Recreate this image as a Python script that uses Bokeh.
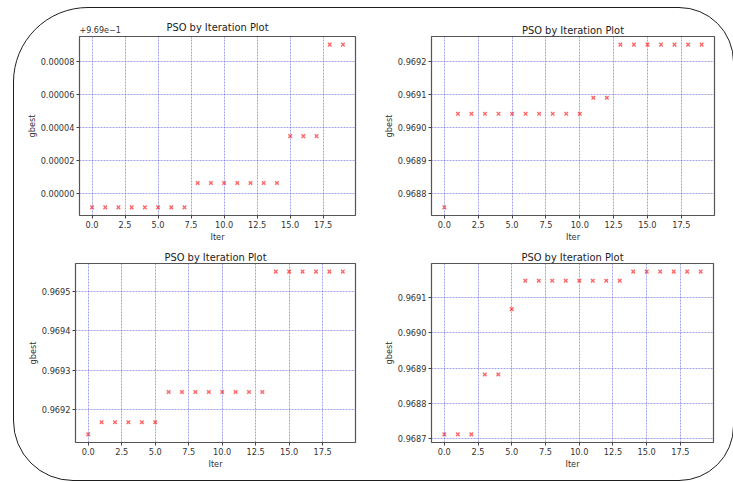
from bokeh.plotting import figure
from bokeh.layouts import row, column
from bokeh.models import FixedTicker, PrintfTickFormatter, Range1d, Title
from bokeh.embed import file_html
from bokeh.resources import INLINE

# ---------------- data ----------------
iters = [0, 1, 2, 3, 4, 5, 6, 7, 8, 9, 10, 11, 12, 13, 14, 15, 16, 17, 18, 19]

gbest_1 = [0.9689915, 0.9689915, 0.9689915, 0.9689915, 0.9689915, 0.9689915, 0.9689915, 0.9689915,
           0.9690063, 0.9690063, 0.9690063, 0.9690063, 0.9690063, 0.9690063, 0.9690063,
           0.9690348, 0.9690348, 0.9690348, 0.9690904, 0.9690904]
gbest_2 = [0.9687583, 0.9690420, 0.9690420, 0.9690420, 0.9690420, 0.9690420, 0.9690420, 0.9690420,
           0.9690420, 0.9690420, 0.9690420, 0.9690910, 0.9690910, 0.9692520, 0.9692520, 0.9692520,
           0.9692520, 0.9692520, 0.9692520, 0.9692520]
gbest_3 = [0.9691370, 0.9691680, 0.9691680, 0.9691680, 0.9691680, 0.9691680, 0.9692450, 0.9692450,
           0.9692450, 0.9692450, 0.9692450, 0.9692450, 0.9692450, 0.9692450, 0.9695510, 0.9695510,
           0.9695510, 0.9695510, 0.9695510, 0.9695510]
gbest_4 = [0.9687130, 0.9687130, 0.9687130, 0.9688820, 0.9688820, 0.9690670, 0.9691470, 0.9691470,
           0.9691470, 0.9691470, 0.9691470, 0.9691470, 0.9691470, 0.9691470, 0.9691730, 0.9691730,
           0.9691730, 0.9691730, 0.9691730, 0.9691730]

offset_1 = 0.969
offset_text_1 = "+9.69e\u22121"

x_ticks = [0, 2.5, 5, 7.5, 10, 12.5, 15, 17.5]
y_ticks_1 = [0.0, 0.00002, 0.00004, 0.00006, 0.00008]
y_ticks_2 = [0.9688, 0.9689, 0.9690, 0.9691, 0.9692]
y_ticks_3 = [0.9692, 0.9693, 0.9694, 0.9695]
y_ticks_4 = [0.9687, 0.9688, 0.9689, 0.9690, 0.9691]

title_text = "PSO by Iteration Plot"
x_label = "Iter"
y_label = "gbest"

FONT = "DejaVu Sans"


def padded(vals, frac=0.05):
    lo, hi = min(vals), max(vals)
    d = (hi - lo) * frac
    return lo - d, hi + d


def panel(w, h, left, right, top, bottom, yvals, yticks, fmt):
    x0, x1 = padded(iters)
    y0, y1 = padded(yvals)
    p = figure(width=w, height=h, output_backend="svg", toolbar_location=None,
               x_range=Range1d(x0, x1), y_range=Range1d(y0, y1),
               min_border_left=left, min_border_right=right,
               min_border_top=top, min_border_bottom=bottom)
    p.border_fill_color = None
    p.background_fill_color = "white"
    p.outline_line_color = "#555555"
    p.outline_line_width = 1.2

    p.title.text = title_text
    p.title.align = "center"
    p.title.text_font = FONT
    p.title.text_font_size = "9.9px"
    p.title.text_font_style = "normal"
    p.title.text_color = "#222222"
    p.title.standoff = 2

    p.scatter(iters, yvals, marker="x", size=5, line_color="red",
              line_alpha=0.6, line_width=1.4)

    p.xaxis.ticker = FixedTicker(ticks=x_ticks)
    p.xaxis.formatter = PrintfTickFormatter(format="%.1f")
    p.yaxis.ticker = FixedTicker(ticks=yticks)
    p.yaxis.formatter = PrintfTickFormatter(format=fmt)
    p.xaxis.axis_label = x_label
    p.yaxis.axis_label = y_label
    for ax in (p.xaxis, p.yaxis):
        ax.axis_line_color = None
        ax.major_tick_line_color = "#444444"
        ax.major_tick_out = 3
        ax.major_tick_in = 0
        ax.minor_tick_line_color = None
        ax.major_label_text_font = FONT
        ax.major_label_text_font_size = "8.2px"
        ax.major_label_text_color = "#333333"
        ax.major_label_standoff = 2
        ax.axis_label_text_font = FONT
        ax.axis_label_text_font_size = "8.2px"
        ax.axis_label_text_font_style = "normal"
        ax.axis_label_text_color = "#333333"
        ax.axis_label_standoff = 1

    for g in (p.xgrid, p.ygrid):
        g.grid_line_color = "#5a5ad4"
        g.grid_line_alpha = 0.55
        g.grid_line_width = 1
        g.grid_line_dash = "2 1"
    return p


p1 = panel(365, 237, 65, 24, 28, 30,
           [v - offset_1 for v in gbest_1], y_ticks_1, "%.5f")
p1.add_layout(Title(text=offset_text_1, align="left", text_font=FONT,
                    text_font_size="8px", text_font_style="normal",
                    text_color="#333333", standoff=5,
                    vertical_align="middle"), "above")
p1.title.standoff = -21
p2 = panel(354, 237, 52, 19, 28, 26, gbest_2, y_ticks_2, "%.4f")
p3 = panel(365, 235, 61, 24, 18, 36, gbest_3, y_ticks_3, "%.4f")
p4 = panel(354, 235, 52, 20, 18, 38, gbest_4, y_ticks_4, "%.4f")

layout = column(row(p1, p2), row(p3, p4), margin=(7, 0, 0, 13),
                styles={"border": "1.5px solid #1e1e1e",
                        "border-radius": "75px 55px 55px 60px"})

open("out.html", "w").write(file_html(layout, INLINE))
